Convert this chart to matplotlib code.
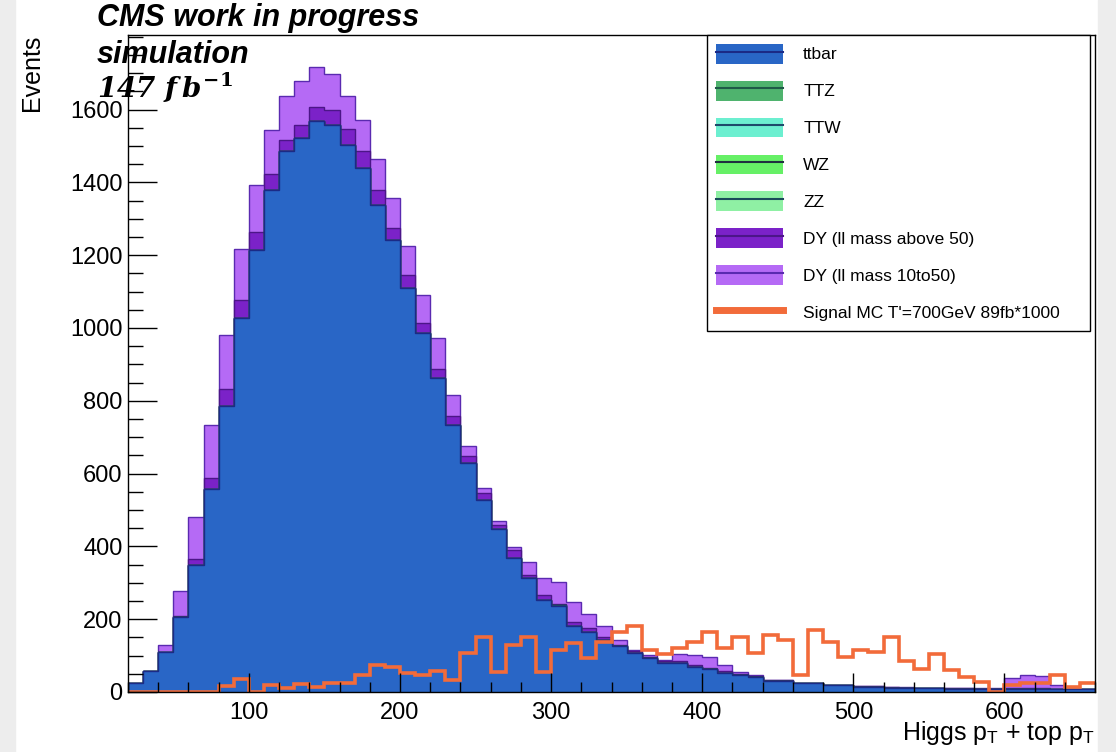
import matplotlib.pyplot as plt
import numpy as np
from matplotlib.lines import Line2D
from matplotlib.patches import Patch, Rectangle
from matplotlib.ticker import FixedLocator, MultipleLocator

# bin edges: 64 bins of 10 from 20 to 660
edges = np.arange(20, 661, 10)

ttbar = [26, 59, 111, 207, 349, 557, 786, 1028, 1215, 1380,
         1486, 1523, 1568, 1559, 1504, 1440, 1339, 1243, 1110, 985,
         863, 734, 629, 528, 447, 368, 313, 253, 235, 181,
         166, 143, 125, 108, 93, 81, 79, 70, 63, 53,
         47, 42, 31, 31, 24, 24, 18, 18, 15, 15,
         12, 11, 10, 10, 9, 9, 8, 8, 8, 8,
         8, 7, 7, 7]
ttz = [0] * 64
ttw = [0] * 28 + [3] + [0] * 35
wz = [0] * 64
zz = [0] * 64
dy50 = [0, 0, 0, 3, 16, 32, 47, 48, 48, 44,
        30, 34, 40, 41, 44, 46, 41, 32, 35, 30,
        24, 25, 18, 18, 13, 21, 9, 14, 5, 12,
        9, 9, 5, 4, 4, 3, 5, 5, 4, 4,
        3, 2, 1, 1, 1, 1, 1, 1, 1, 1,
        1, 1, 1, 1, 1, 1, 1, 1, 3, 3,
        3, 1, 1, 1]
dy10 = [0, 0, 18, 67, 117, 145, 149, 140, 129, 119,
        121, 121, 110, 99, 89, 85, 83, 82, 80, 75,
        86, 58, 29, 14, 10, 9, 34, 46, 59, 53,
        39, 28, 13, 3, 5, 4, 20, 27, 28, 17,
        6, 3, 1, 1, 1, 1, 1, 1, 1, 1,
        1, 1, 1, 1, 1, 1, 1, 1, 27, 36,
        33, 11, 1, 1]
signal = [0, 0, 0, 0, 0, 0, 16, 35, 0, 20,
          12, 21, 15, 24, 26, 47, 75, 68, 52, 47,
          59, 33, 108, 150, 56, 129, 150, 56, 114, 134,
          93, 136, 166, 182, 114, 104, 120, 138, 165, 120,
          152, 106, 157, 143, 47, 170, 138, 95, 115, 111,
          150, 86, 62, 104, 60, 40, 28, 0, 19, 24,
          24, 47, 15, 26]

labels = ["ttbar", "TTZ", "TTW", "WZ", "ZZ",
          "DY (ll mass above 50)", "DY (ll mass 10to50)"]
fills = ["#2966c6", "#4fb36e", "#6cefd0", "#66f066", "#8ff0a4",
         "#7b22c8", "#b56af5"]
edgecols = ["#1b2a86", "#1f5a48", "#1d4a6a", "#1f3040", "#1a4a5a",
            "#4c1688", "#5a2ab0"]
sig_color = "#f26b3a"

plt.rcParams['font.family'] = ['Liberation Sans', 'DejaVu Sans']
plt.rcParams['mathtext.fontset'] = 'custom'
plt.rcParams['mathtext.it'] = 'DejaVu Serif:italic:bold'
plt.rcParams['mathtext.rm'] = 'DejaVu Serif:bold'

fig = plt.figure(figsize=(11.16, 7.52), dpi=100)
ax = fig.add_axes([0.1147, 0.0798, 0.8666, 0.8737])

# light grey slide borders
fig.add_artist(Rectangle((0, 0), 15 / 1116, 1, transform=fig.transFigure,
                         color="#ededed", zorder=-10))
fig.add_artist(Rectangle((1098 / 1116, 0), 18 / 1116, 1, transform=fig.transFigure,
                         color="#ededed", zorder=-10))

comps = np.array([ttbar, ttz, ttw, wz, zz, dy50, dy10], dtype=float)
cum = np.cumsum(comps, axis=0)
# draw like a THStack: largest cumulative first
for i in reversed(range(len(labels))):
    ax.stairs(cum[i], edges, fill=True, color=fills[i])
    ax.stairs(cum[i], edges, color=edgecols[i], lw=1)

ax.stairs(signal, edges, baseline=None, color=sig_color, lw=2.6)

ax.set_xlim(20, 660)
ax.set_ylim(0, 1805)
ax.xaxis.set_major_locator(MultipleLocator(100))
ax.xaxis.set_minor_locator(MultipleLocator(20))
ax.yaxis.set_major_locator(FixedLocator(np.arange(0, 1601, 200)))
ax.yaxis.set_minor_locator(MultipleLocator(50))
ax.tick_params(which='both', direction='in', top=False, right=False,
               labelsize=17, width=1, color='black')
ax.tick_params(axis='x', which='major', length=14, pad=7)
ax.tick_params(axis='x', which='minor', length=7)
ax.tick_params(axis='y', which='major', length=21, pad=4)
ax.tick_params(axis='y', which='minor', length=10.5)
for sp in ax.spines.values():
    sp.set_linewidth(1)

ax.set_xlabel(r'Higgs p$_\mathregular{T}$ + top p$_\mathregular{T}$',
              fontsize=18, loc='right')
ax.xaxis.set_label_coords(1.0, -0.062)
ax.xaxis.label.set_va('center')
ax.set_ylabel('Events', fontsize=18, loc='top')
ax.yaxis.set_label_coords(-0.099, 1.0)
ax.yaxis.label.set_va('center')

handles = [(Patch(facecolor=fills[i], edgecolor='none'),
            Line2D([], [], color=edgecols[i], lw=1.5)) for i in range(len(labels))]
handles.append(Line2D([], [], color=sig_color, lw=5))
leg = ax.legend(handles, labels + ["Signal MC T'=700GeV 89fb*1000"],
                loc='upper left', bbox_to_anchor=(0.599, 1.0, 0.396, 0),
                mode='expand', borderaxespad=0, fontsize=12.5,
                handlelength=3.87, handleheight=1.39, labelspacing=0.98,
                handletextpad=1.15, borderpad=0.5, fancybox=False,
                framealpha=1, edgecolor='black')
leg.get_frame().set_linewidth(1)

fig.text(97 / 1116, 1 - 18 / 752, "CMS work in progress", fontsize=22,
         fontweight='bold', fontstyle='italic', va='center', ha='left', zorder=20)
fig.text(97 / 1116, 1 - 55 / 752, "simulation", fontsize=22,
         fontweight='bold', fontstyle='italic', va='center', ha='left', zorder=20)
fig.text(97 / 1116, 1 - 88 / 752, r'147 $\mathit{f\,b^{-1}}$', fontsize=20,
         family='DejaVu Serif', fontweight='bold', fontstyle='italic',
         va='center', ha='left', zorder=20)

fig.savefig("out.png", dpi=100)
